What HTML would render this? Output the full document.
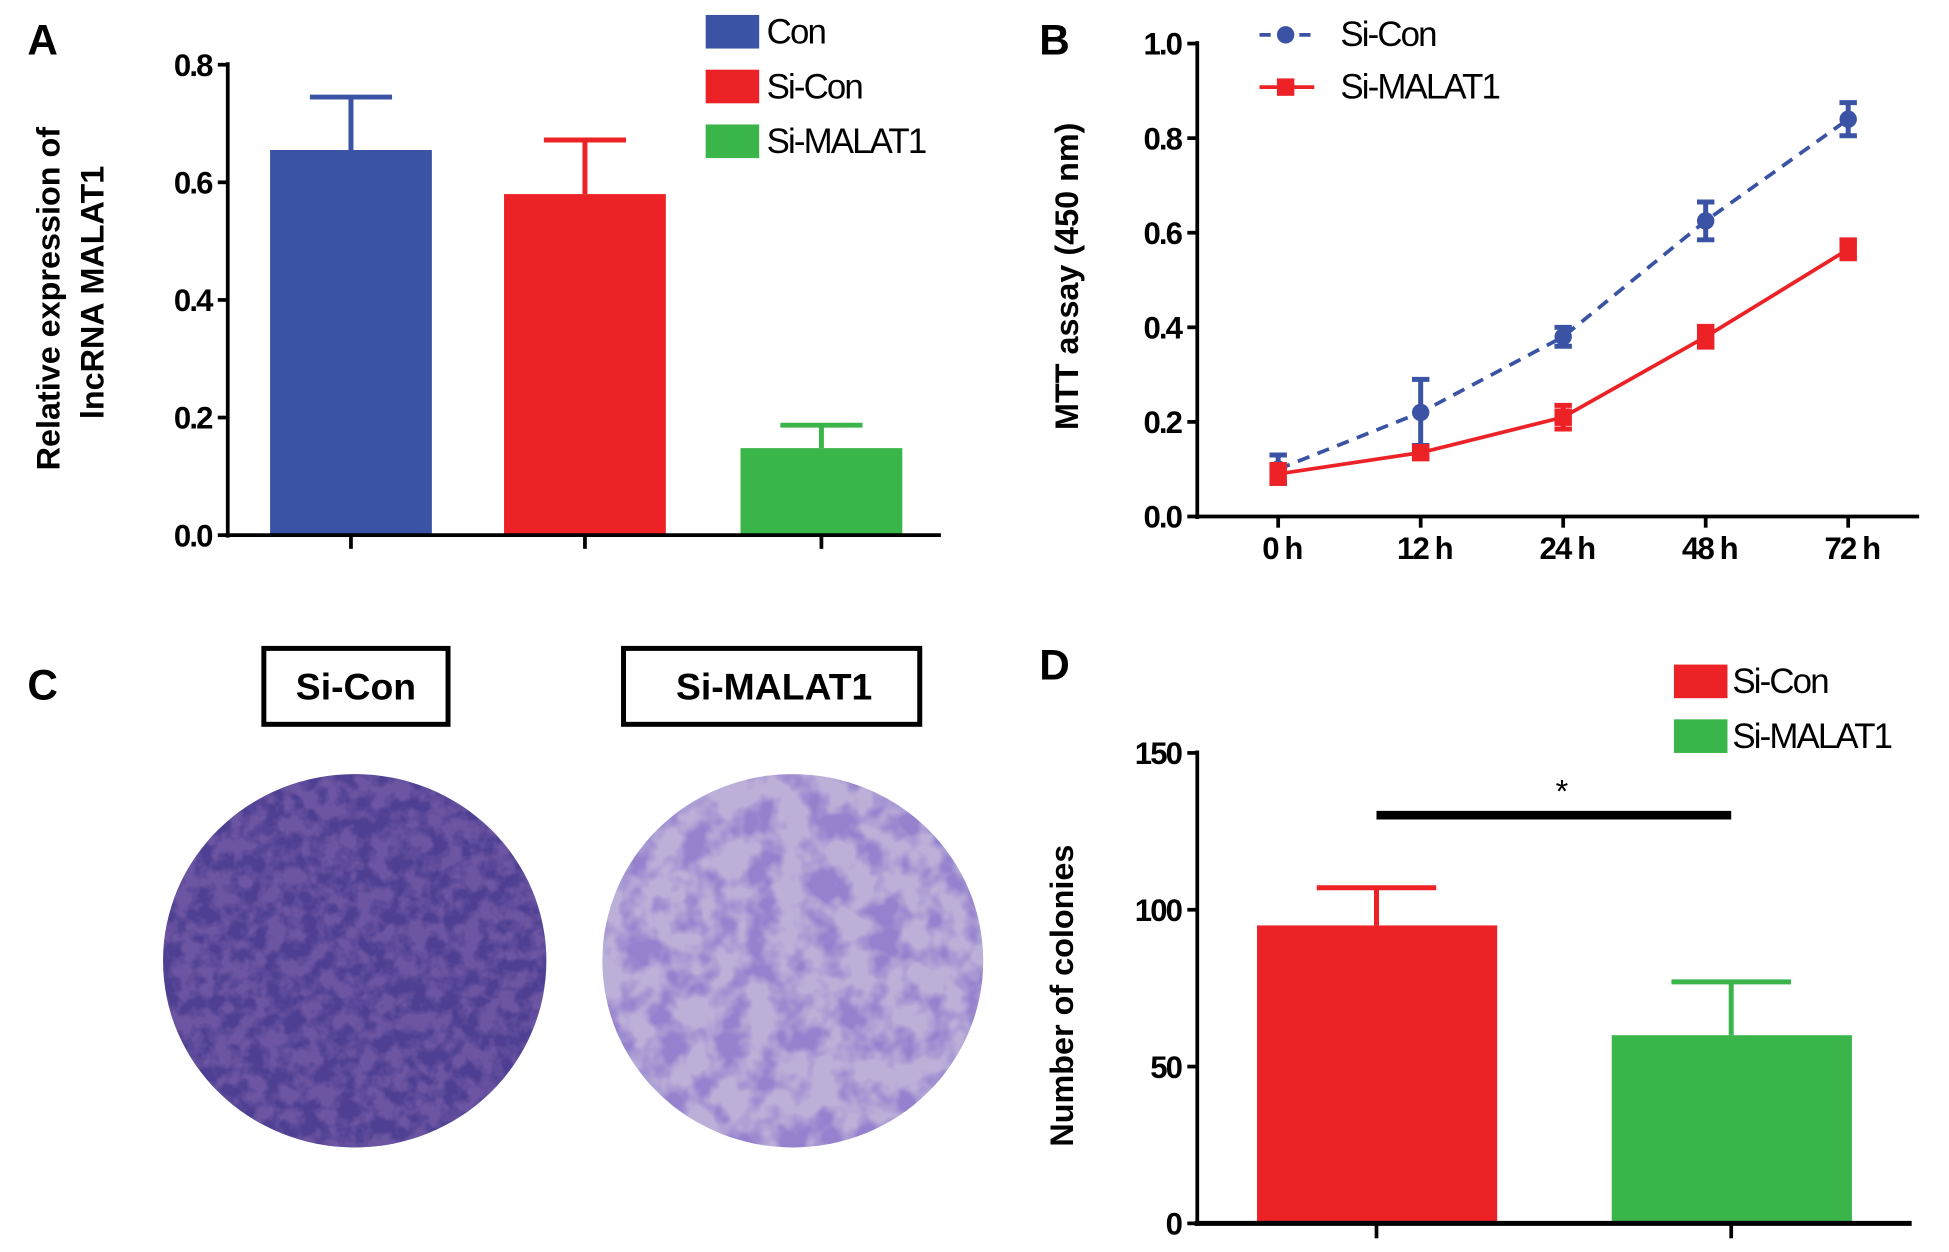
<!DOCTYPE html>
<html><head><meta charset="utf-8"><style>
html,body{margin:0;padding:0;background:#fff}
svg{display:block}
text{font-family:"Liberation Sans",Arial,sans-serif}
.cond{letter-spacing:-1.5px}
</style></head><body>
<svg id="fig" width="1949" height="1252" viewBox="0 0 1566 1006" preserveAspectRatio="none">
<defs>
<filter id="dots1" x="0" y="0" width="100%" height="100%">
<feTurbulence type="fractalNoise" baseFrequency="0.07" numOctaves="3" seed="3"/>
<feColorMatrix type="matrix" values="0 0 0 0 0.15  0 0 0 0 0.09  0 0 0 0 0.36  0 0 0 -3.5 2.3"/>
</filter>
<filter id="dots2" x="0" y="0" width="100%" height="100%">
<feTurbulence type="fractalNoise" baseFrequency="0.04" numOctaves="3" seed="7"/>
<feColorMatrix type="matrix" values="0 0 0 0 0.30  0 0 0 0 0.22  0 0 0 0 0.62  0 0 0 -3.5 2.1"/>
</filter>
<clipPath id="c1"><ellipse cx="285" cy="772" rx="154" ry="150"/></clipPath>
<clipPath id="c2"><ellipse cx="637" cy="772" rx="153" ry="150"/></clipPath>
</defs>
<g id="A"></g>
<g id="B"></g>
<g id="C">
<text x="22" y="562" font-size="34" font-weight="bold">C</text>
<rect x="212" y="521" width="148" height="61" fill="none" stroke="#000" stroke-width="4"/>
<text x="286" y="562" font-size="30" font-weight="bold" text-anchor="middle">Si-Con</text>
<rect x="501" y="521" width="238" height="61" fill="none" stroke="#000" stroke-width="4"/>
<text x="622" y="562" font-size="30" font-weight="bold" text-anchor="middle">Si-MALAT1</text>
<g clip-path="url(#c1)">
<rect x="120" y="610" width="330" height="320" fill="#4e3f92"/>
<rect x="120" y="610" width="330" height="320" filter="url(#dots1)"/>
</g>
<g clip-path="url(#c2)">
<rect x="470" y="610" width="330" height="320" fill="#bcafd8"/>
<rect x="470" y="610" width="330" height="320" filter="url(#dots2)"/>
</g>
</g>
<g id="D"></g>
</svg>
<script>
const NS="http://www.w3.org/2000/svg";
function mk(p,tag,attrs,txt){const e=document.createElementNS(NS,tag);for(const k in attrs)e.setAttribute(k,attrs[k]);if(txt!==undefined)e.textContent=txt;p.appendChild(e);return e;}
const BLUE="#3a53a4",RED="#ec2227",GREEN="#3ab54a";

// Panel A data
const aCats=["Con","Si-Con","Si-MALAT1"];
const aVals=[0.655,0.58,0.148];
const aErr=[0.09,0.092,0.039];
const aTicks=[0,0.2,0.4,0.6,0.8];
// Panel B data
const bCats=["0 h","12 h","24 h","48 h","72 h"];
const bSiCon=[0.10,0.22,0.38,0.625,0.84];
const bSiConErr=[0.03,0.07,0.02,0.04,0.035];
const bSiMal=[0.09,0.135,0.21,0.38,0.565];
const bSiMalErr=[0.02,0.012,0.025,0.022,0.02];
const bTicks=[0,0.2,0.4,0.6,0.8,1.0];
// Panel D data
const dCats=["Si-Con","Si-MALAT1"];
const dVals=[95,60];
const dErr=[12,17];
const dTicks=[0,50,100,150];

// ---------- Panel A
{
const g=document.getElementById("A");
const y=v=>430-v/0.8*378;
const cx=[282,470,660], cols=[BLUE,RED,GREEN];
mk(g,"text",{x:22,y:44,"font-size":34,"font-weight":"bold",},"A");
aVals.forEach((v,i)=>{
 const eb=mk(g,"line",{x1:cx[i],x2:cx[i],y1:y(v),y2:y(v+aErr[i]),stroke:cols[i],"stroke-width":4});
 
 
 const cap=mk(g,"line",{x1:cx[i]-33,x2:cx[i]+33,y1:y(v+aErr[i]),y2:y(v+aErr[i]),stroke:cols[i],"stroke-width":4});
 
 
 const r=mk(g,"rect",{x:cx[i]-65,y:y(v),width:130,height:430-y(v),fill:cols[i]});
 
 
 mk(g,"line",{x1:cx[i],x2:cx[i],y1:430,y2:441,stroke:"#000","stroke-width":3});
});
mk(g,"line",{x1:183,x2:183,y1:50,y2:432,stroke:"#000","stroke-width":3,});
mk(g,"line",{x1:181,x2:756,y1:430,y2:430,stroke:"#000","stroke-width":3,});
aTicks.forEach(t=>{
 mk(g,"line",{x1:175,x2:183,y1:y(t),y2:y(t),stroke:"#000","stroke-width":3});
 const tl=mk(g,"text",{x:170,y:y(t)+9,"font-size":25,"font-weight":"bold","text-anchor":"end",class:"cond"},t.toFixed(1));
 
 
});
mk(g,"text",{transform:"translate(48,240) rotate(-90)","font-size":26,"font-weight":"bold","text-anchor":"middle",},"Relative expression of");
mk(g,"text",{transform:"translate(83,235) rotate(-90)","font-size":26,"font-weight":"bold","text-anchor":"middle",},"lncRNA MALAT1");
aCats.forEach((c,i)=>{
 const lr=mk(g,"rect",{x:567,y:12+i*44,width:43,height:27,fill:cols[i]});
 
 
 const lt=mk(g,"text",{x:616,y:35+i*44,"font-size":28,class:"cond"},c);
 
 
});
}
// ---------- Panel B
{
const g=document.getElementById("B");
const y=v=>415-v*380;
const x=i=>1027+i*114.5;
mk(g,"text",{x:835,y:44,"font-size":34,"font-weight":"bold",},"B");
mk(g,"line",{x1:962,x2:962,y1:33,y2:417,stroke:"#000","stroke-width":3,});
mk(g,"line",{x1:960,x2:1542,y1:415,y2:415,stroke:"#000","stroke-width":3,});
bTicks.forEach(t=>{
 mk(g,"line",{x1:954,x2:962,y1:y(t),y2:y(t),stroke:"#000","stroke-width":3});
 const tl=mk(g,"text",{x:949,y:y(t)+9,"font-size":25,"font-weight":"bold","text-anchor":"end",class:"cond"},t.toFixed(1));
 
 
});
bCats.forEach((c,i)=>{
 mk(g,"line",{x1:x(i),x2:x(i),y1:415,y2:424,stroke:"#000","stroke-width":3});
 const tl=mk(g,"text",{x:x(i)+3,y:449,"font-size":25,"font-weight":"bold","text-anchor":"middle",class:"cond"},c);
 
 
});
mk(g,"text",{transform:"translate(866,222) rotate(-90)","font-size":26,"font-weight":"bold","text-anchor":"middle",},"MTT assay (450 nm)");
function series(vals,errs,col,dash,sq,name){
 const pts=vals.map((v,i)=>x(i)+","+y(v)).join(" ");
 const pl=mk(g,"polyline",{points:pts,fill:"none",stroke:col,"stroke-width":3,"stroke-dasharray":dash});
 
 
 vals.forEach((v,i)=>{
  mk(g,"line",{x1:x(i),x2:x(i),y1:y(v-errs[i]),y2:y(v+errs[i]),stroke:col,"stroke-width":4});
  mk(g,"line",{x1:x(i)-7,x2:x(i)+7,y1:y(v-errs[i]),y2:y(v-errs[i]),stroke:col,"stroke-width":4});
  mk(g,"line",{x1:x(i)-7,x2:x(i)+7,y1:y(v+errs[i]),y2:y(v+errs[i]),stroke:col,"stroke-width":4});
  const m=sq?mk(g,"rect",{x:x(i)-7,y:y(v)-7,width:14,height:14,fill:col}):mk(g,"circle",{cx:x(i),cy:y(v),r:7,fill:col});
  
  
 });
}
series(bSiCon,bSiConErr,BLUE,"10,7",false,"si-con");
series(bSiMal,bSiMalErr,RED,"",true,"si-malat1");
mk(g,"line",{x1:1012,x2:1056,y1:28,y2:28,stroke:BLUE,"stroke-width":3,"stroke-dasharray":"9,7"});
mk(g,"circle",{cx:1033,cy:28,r:7,fill:BLUE,});
mk(g,"text",{x:1077,y:37,"font-size":28,class:"cond",},"Si-Con");
mk(g,"line",{x1:1012,x2:1056,y1:70,y2:70,stroke:RED,"stroke-width":3});
mk(g,"rect",{x:1026,y:63,width:14,height:14,fill:RED,});
mk(g,"text",{x:1077,y:79,"font-size":28,class:"cond",},"Si-MALAT1");
}
// ---------- Panel D
{
const g=document.getElementById("D");
const y=v=>983-v/150*378;
const cx=[1106,1391], cols=[RED,GREEN];
mk(g,"text",{x:835,y:546,"font-size":34,"font-weight":"bold",},"D");
dVals.forEach((v,i)=>{
 const eb=mk(g,"line",{x1:cx[i],x2:cx[i],y1:y(v),y2:y(v+dErr[i]),stroke:cols[i],"stroke-width":4});
 
 
 const cap=mk(g,"line",{x1:cx[i]-48,x2:cx[i]+48,y1:y(v+dErr[i]),y2:y(v+dErr[i]),stroke:cols[i],"stroke-width":4});
 
 
 const r=mk(g,"rect",{x:cx[i]-96,y:y(v),width:193,height:983-y(v),fill:cols[i]});
 
 
 mk(g,"line",{x1:cx[i],x2:cx[i],y1:983,y2:995,stroke:"#000","stroke-width":3});
});
mk(g,"line",{x1:962,x2:962,y1:603,y2:985,stroke:"#000","stroke-width":3,});
mk(g,"line",{x1:960,x2:1536,y1:983,y2:983,stroke:"#000","stroke-width":4,});
dTicks.forEach(t=>{
 mk(g,"line",{x1:954,x2:962,y1:y(t),y2:y(t),stroke:"#000","stroke-width":3});
 const tl=mk(g,"text",{x:949,y:y(t)+9,"font-size":25,"font-weight":"bold","text-anchor":"end",class:"cond"},String(t));
 
 
});
mk(g,"text",{transform:"translate(862,800) rotate(-90)","font-size":26,"font-weight":"bold","text-anchor":"middle",},"Number of colonies");
mk(g,"line",{x1:1106,x2:1391,y1:655,y2:655,stroke:"#000","stroke-width":7,});
mk(g,"text",{x:1255,y:645,"font-size":26,"text-anchor":"middle",},"*");
dCats.forEach((c,i)=>{
 const lr=mk(g,"rect",{x:1345,y:534+i*44,width:43,height:27,fill:cols[i]});
 
 
 const lt=mk(g,"text",{x:1392,y:557+i*44,"font-size":28,class:"cond"},c);
 
 
});
}
</script>
</body></html>
